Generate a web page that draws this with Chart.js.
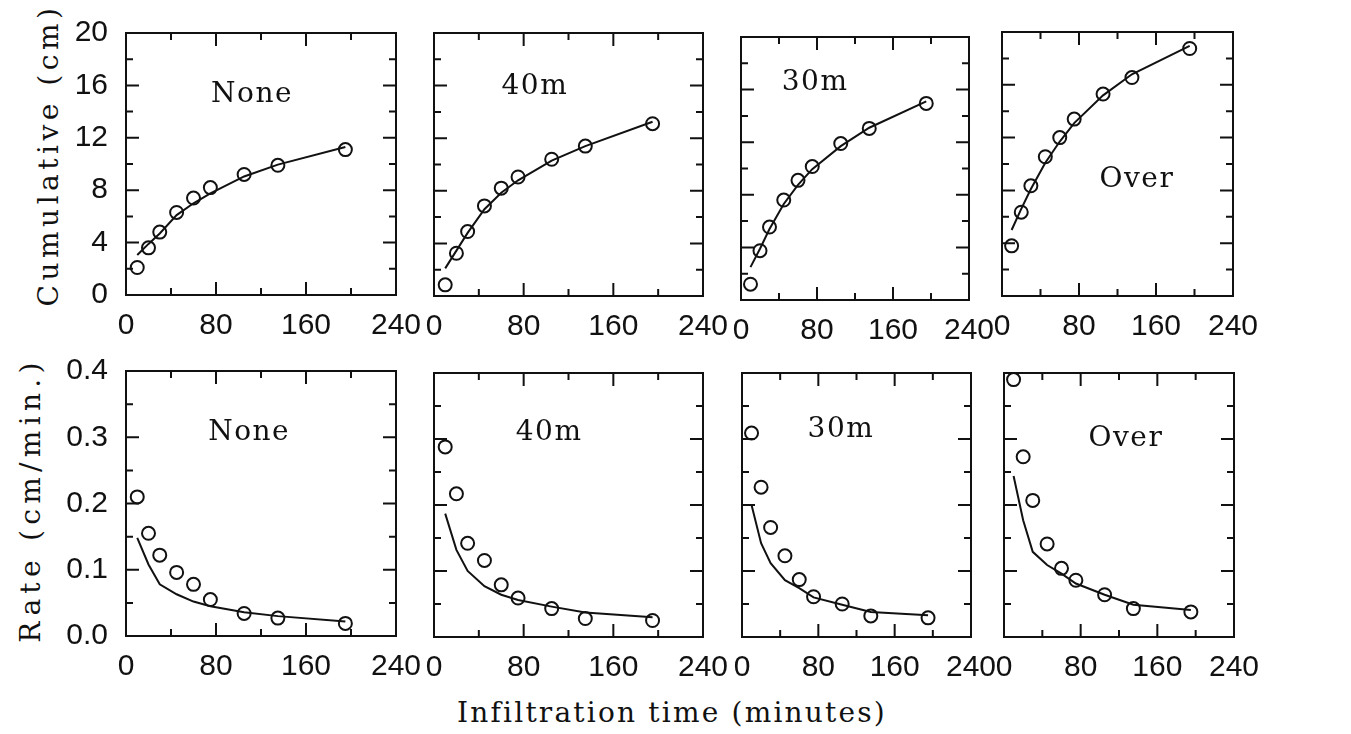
<!DOCTYPE html>
<html>
<head>
<meta charset="utf-8">
<title>Infiltration</title>
<script src="https://cdn.jsdelivr.net/npm/chart.js"></script>
<style>
body { margin: 0; background: #fff; }
#wrap { position: relative; width: 1351px; height: 734px; overflow: hidden; background: #fff; }
canvas { position: absolute; }
.title { position: absolute; font-family: "DejaVu Serif", serif; font-size: 28px; color: #111; white-space: nowrap; line-height: 1; }
#ytop { left: 49px; top: 155px; letter-spacing: 4.5px; transform: translate(-50%, -50%) rotate(-90deg); }
#ybot { left: 31px; top: 500px; letter-spacing: 5.3px; transform: translate(-50%, -50%) rotate(-90deg); }
#xtitle { left: 672px; top: 699px; letter-spacing: 2.2px; transform: translateX(-50%); }
</style>
</head>
<body>
<div id="wrap">
  <div class="title" id="ytop">Cumulative (cm)</div>
  <div class="title" id="ybot">Rate (cm/min.)</div>
  <div class="title" id="xtitle">Infiltration time (minutes)</div>
</div>
<script>
// measurement times (minutes)
const times = [10, 20, 30, 45, 60, 75, 105, 135, 195];
const treatments = ["None", "40m", "30m", "Over"];

// cumulative infiltration (cm): observed circles and fitted line
const cumObsNone = [2.1, 3.6, 4.8, 6.3, 7.4, 8.2, 9.2, 9.9, 11.1];
const cumObs40m  = [0.85, 3.25, 4.9, 6.85, 8.2, 9.05, 10.4, 11.4, 13.1];
const cumObs30m  = [1.2, 3.75, 5.55, 7.6, 9.1, 10.15, 11.9, 13.05, 14.95];
const cumObsOver = [3.8, 6.35, 8.35, 10.55, 12.0, 13.4, 15.3, 16.55, 18.75];

const cumFitNone = [3.05, 3.9, 4.7, 6.1, 7.0, 7.75, 9.05, 9.95, 11.3];
const cumFit40m  = [2.1, 3.45, 4.8, 6.6, 7.85, 8.8, 10.3, 11.4, 13.25];
const cumFit30m  = [2.5, 3.9, 5.4, 7.3, 8.75, 9.95, 11.7, 13.1, 15.1];
const cumFitOver = [5.0, 6.6, 8.1, 10.1, 11.7, 13.1, 15.2, 16.8, 18.95];

// infiltration rate (cm/min): observed circles and fitted line
const rateObsNone = [0.21, 0.155, 0.122, 0.096, 0.078, 0.055, 0.034, 0.027, 0.019];
const rateObs40m  = [0.288, 0.217, 0.142, 0.116, 0.079, 0.059, 0.043, 0.028, 0.025];
const rateObs30m  = [0.309, 0.227, 0.166, 0.123, 0.087, 0.061, 0.050, 0.032, 0.029];
const rateObsOver = [0.390, 0.273, 0.207, 0.141, 0.104, 0.086, 0.064, 0.043, 0.038];

const rateFitNone = [0.148, 0.108, 0.078, 0.063, 0.052, 0.045, 0.036, 0.030, 0.022];
const rateFit40m  = [0.187, 0.132, 0.100, 0.077, 0.064, 0.056, 0.046, 0.037, 0.030];
const rateFit30m  = [0.200, 0.142, 0.112, 0.086, 0.074, 0.060, 0.049, 0.038, 0.033];
const rateFitOver = [0.244, 0.177, 0.129, 0.109, 0.096, 0.081, 0.064, 0.049, 0.041];

// axis ticks
const xMajor = [0, 80, 160, 240];
const xMinor = [40, 120, 200];
const cumMajor = [0, 4, 8, 12, 16, 20];
const cumMinor = [2, 6, 10, 14, 18];
const rateMajor = [0, 0.1, 0.2, 0.3, 0.4];
const rateMinor = [0.05, 0.15, 0.25, 0.35];

// plot boxes [left, top, width, height] and label spots (fraction of box)
const boxesTop = [[126, 33, 270, 262], [434, 33, 269, 263], [741, 37, 228, 263], [1002, 32, 231, 264]];
const boxesBot = [[126, 371, 270, 265], [434, 373, 269, 264], [742, 373, 229, 264], [1004, 373, 230, 264]];
const labelTop = [[0.467, 0.237], [0.375, 0.205], [0.325, 0.175], [0.584, 0.56]];
const labelBot = [[0.456, 0.234], [0.428, 0.227], [0.432, 0.216], [0.53, 0.25]];

const INK = "#111";

const framePlugin = {
    id: "frame",
    beforeDatasetsDraw(chart, args, opts) {
        const ctx = chart.ctx;
        const a = chart.chartArea;
        const x = chart.scales.x;
        const y = chart.scales.y;
        ctx.save();
        ctx.strokeStyle = INK;
        ctx.lineWidth = 2;
        ctx.strokeRect(a.left, a.top, a.right - a.left, a.bottom - a.top);
        ctx.beginPath();
        const vt = (v, len) => {
            const px = x.getPixelForValue(v);
            ctx.moveTo(px, a.bottom); ctx.lineTo(px, a.bottom - len);
            ctx.moveTo(px, a.top); ctx.lineTo(px, a.top + len);
        };
        const ht = (v, len) => {
            const py = y.getPixelForValue(v);
            ctx.moveTo(a.left, py); ctx.lineTo(a.left + len, py);
            ctx.moveTo(a.right, py); ctx.lineTo(a.right - len, py);
        };
        xMajor.forEach(v => vt(v, 13));
        xMinor.forEach(v => vt(v, 7));
        opts.yMajor.forEach(v => ht(v, 13));
        opts.yMinor.forEach(v => ht(v, 7));
        ctx.stroke();

        ctx.fillStyle = INK;
        ctx.font = '28px "DejaVu Serif"';
        ctx.letterSpacing = "1.5px";
        ctx.textAlign = "center";
        ctx.textBaseline = "middle";
        ctx.fillText(opts.text,
            a.left + opts.pos[0] * (a.right - a.left),
            a.top + opts.pos[1] * (a.bottom - a.top));
        ctx.restore();
    }
};

function toPoints(ys) {
    return times.map((t, i) => ({ x: t, y: ys[i] }));
}

function makePanel(box, labelPos, name, obs, fit, yCfg, first) {
    const ML = first ? box[0] : 30;
    const MR = 32, MT = 14, MB = 52;
    const canvas = document.createElement("canvas");
    canvas.width = ML + box[2] + MR;
    canvas.height = MT + box[3] + MB;
    canvas.style.left = (box[0] - ML) + "px";
    canvas.style.top = (box[1] - MT) + "px";
    document.getElementById("wrap").appendChild(canvas);

    new Chart(canvas, {
        type: "scatter",
        data: {
            datasets: [{
                data: toPoints(fit),
                showLine: true,
                borderColor: INK,
                borderWidth: 2,
                pointRadius: 0,
                tension: 0,
                clip: false
            }, {
                data: toPoints(obs),
                showLine: false,
                pointRadius: 6.5,
                pointBorderWidth: 2,
                pointBorderColor: INK,
                pointBackgroundColor: "rgba(255,255,255,0)",
                clip: false
            }]
        },
        options: {
            responsive: false,
            animation: false,
            layout: { padding: { left: 0, right: MR, top: MT, bottom: 0 } },
            plugins: {
                legend: { display: false },
                tooltip: { enabled: false },
                frame: { text: name, pos: labelPos, yMajor: yCfg.major, yMinor: yCfg.minor }
            },
            scales: {
                x: {
                    type: "linear",
                    min: 0, max: 240,
                    grid: { display: false, drawTicks: false },
                    border: { display: false },
                    ticks: {
                        stepSize: 80,
                        padding: 13,
                        color: INK,
                        maxRotation: 0,
                        font: { family: "Liberation Sans", size: 30 }
                    },
                    afterFit: s => { s.height = MB; s.paddingLeft = 0; s.paddingRight = 0; }
                },
                y: {
                    type: "linear",
                    min: 0, max: yCfg.max,
                    grid: { display: false, drawTicks: false },
                    border: { display: false },
                    ticks: {
                        display: first,
                        stepSize: yCfg.step,
                        padding: 18,
                        color: INK,
                        font: { family: "Liberation Sans", size: 30 },
                        callback: yCfg.fmt
                    },
                    afterFit: s => { s.width = ML; s.paddingTop = 0; s.paddingBottom = 0; }
                }
            }
        },
        plugins: [framePlugin]
    });
}

const cumObs = [cumObsNone, cumObs40m, cumObs30m, cumObsOver];
const cumFit = [cumFitNone, cumFit40m, cumFit30m, cumFitOver];
const rateObs = [rateObsNone, rateObs40m, rateObs30m, rateObsOver];
const rateFit = [rateFitNone, rateFit40m, rateFit30m, rateFitOver];

const cumCfg = { max: 20, step: 4, major: cumMajor, minor: cumMinor, fmt: v => String(v) };
const rateCfg = { max: 0.4, step: 0.1, major: rateMajor, minor: rateMinor, fmt: v => v.toFixed(1) };

treatments.forEach((name, i) => {
    makePanel(boxesTop[i], labelTop[i], name, cumObs[i], cumFit[i], cumCfg, i === 0);
    makePanel(boxesBot[i], labelBot[i], name, rateObs[i], rateFit[i], rateCfg, i === 0);
});
</script>
</body>
</html>
